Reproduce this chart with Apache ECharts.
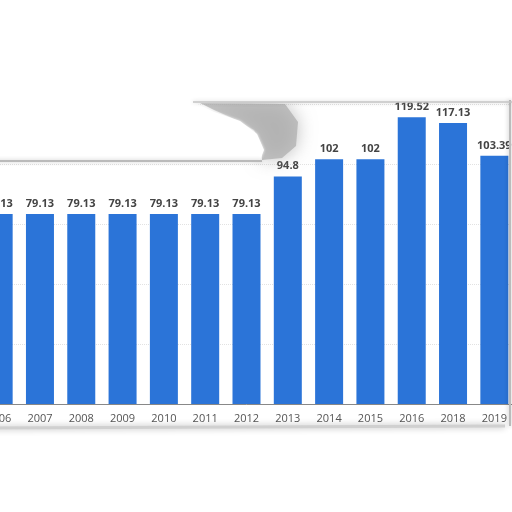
<!DOCTYPE html>
<html>
<head>
<meta charset="utf-8">
<script src="https://cdn.jsdelivr.net/npm/echarts@6/dist/echarts.min.js"></script>
<style>html,body{margin:0;padding:0;background:#fff;overflow:hidden}#c{position:absolute;left:-22px;top:0;width:560px;height:512px}</style>
</head>
<body>
<div id="c"></div>
<script>
var categories = ['2006','2007','2008','2009','2010','2011','2012','2013','2014','2015','2016','2018','2019'];
var values = [79.13,79.13,79.13,79.13,79.13,79.13,79.13,94.8,102,102,119.52,117.13,103.39];
var yTicks = [0,25,50,75,100,125];

var OX = 22; // page offset of the chart div
var chart = echarts.init(document.getElementById('c'), null, {renderer:'canvas'});
function P(pts){ return pts.map(function(p){ return [p[0]+OX, p[1]]; }); }
chart.setOption({
  animation:false,
  backgroundColor:'#fff',
  grid:{left:0, top:104, width:537, height:300, containLabel:false},
  xAxis:{
    type:'category', data:categories,
    axisLine:{lineStyle:{color:'#888', width:1}},
    axisTick:{show:false},
    axisLabel:{color:'#555', fontSize:11, fontFamily:'Open Sans', margin:9}
  },
  yAxis:{
    type:'value', min:yTicks[0], max:yTicks[yTicks.length-1], interval:25,
    axisLabel:{show:false}, axisLine:{show:false}, axisTick:{show:false},
    splitLine:{lineStyle:{color:'#e2e2e2', type:'dotted'}}
  },
  series:[{
    type:'bar', data:values, barWidth:28,
    itemStyle:{color:'#2b74d8'},
    label:{show:true, position:'top', distance:5, color:'#444', fontSize:11, fontWeight:'bold', fontFamily:'Open Sans'}
  }],
  graphic:[
    {type:'polygon', z:99, shape:{points:P([[200,103],[285,104],[298,122],[296,146],[282,158],[262,160],[262,146],[254,130],[232,118],[214,110]])},
     style:{fill:'rgba(175,175,175,0.75)', shadowBlur:18, shadowColor:'rgba(160,160,160,0.9)'}},
    {type:'polygon', z:100, shape:{points:P([[-30,-10],[540,-10],[540,101],[193,102],[214,112],[240,121],[257,134],[264,150],[260,160],[-30,161]])},
     style:{fill:'#fff', shadowBlur:3, shadowColor:'rgba(255,255,255,1)'}},
    {type:'polyline', z:101, shape:{points:P([[-30,161],[262,161]])}, style:{stroke:'#aaa', lineWidth:1.5, shadowBlur:4, shadowColor:'rgba(0,0,0,0.3)'}},
    {type:'polyline', z:101, shape:{points:P([[193,102],[512,102]])}, style:{stroke:'#c4c4c4', lineWidth:1.5, shadowBlur:4, shadowColor:'rgba(0,0,0,0.2)'}},
    {type:'line', z:100, shape:{x1:OX-30,y1:428,x2:OX+505,y2:426}, style:{stroke:'#d0d0d0', lineWidth:3, shadowBlur:6, shadowColor:'rgba(0,0,0,0.3)'}},
    {type:'line', z:100, shape:{x1:OX+510,y1:100,x2:OX+510,y2:426}, style:{stroke:'#bbb', lineWidth:2, shadowBlur:5, shadowColor:'rgba(0,0,0,0.3)'}}
  ]
});
</script>
</body>
</html>
